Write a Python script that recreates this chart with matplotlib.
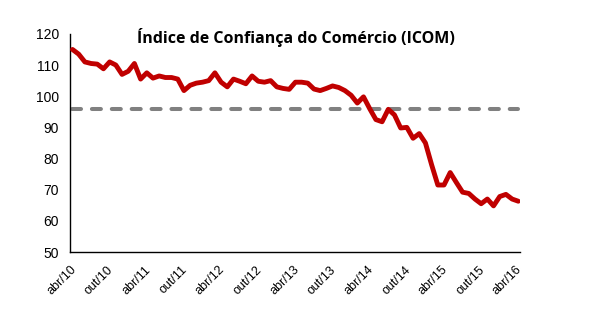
import matplotlib
matplotlib.use("Agg")
import matplotlib.pyplot as plt

# Monthly ICOM index, abr/10 .. abr/16
icom = [115.0, 113.5, 111.0, 110.5, 110.3, 108.8, 111.0, 110.0, 107.0, 108.0,
        110.5, 105.5, 107.5, 105.8, 106.5, 106.0, 106.0, 105.5, 101.8, 103.5,
        104.2, 104.5, 105.0, 107.5, 104.5, 103.0, 105.5, 104.8, 104.0, 106.5,
        104.8, 104.5, 105.0, 103.0, 102.5, 102.2, 104.5, 104.5, 104.2, 102.3,
        101.8, 102.5, 103.3, 102.8, 101.8, 100.3, 97.8, 99.8, 96.0, 92.5,
        91.8, 95.8, 94.0, 89.8, 90.0, 86.5, 88.0, 85.0, 78.0, 71.5,
        71.5, 75.5, 72.3, 69.2, 68.8, 67.0, 65.5, 67.0, 64.8, 67.8,
        68.5, 67.0, 66.3]
reference_level = 96.0
tick_labels = ["abr/10", "out/10", "abr/11", "out/11", "abr/12", "out/12",
               "abr/13", "out/13", "abr/14", "out/14", "abr/15", "out/15",
               "abr/16"]
tick_step = 6

plt.rcParams["font.family"] = ["Liberation Sans", "DejaVu Sans"]

fig = plt.figure(figsize=(6.01, 3.29), dpi=100)
ax = fig.add_axes([0.1165, 0.234, 0.749, 0.663])

x = list(range(len(icom)))
ax.plot(x, icom, color="#C00000", linewidth=3.5, solid_joinstyle="round",
        solid_capstyle="round", zorder=3)
ax.plot([x[0], x[-1]], [reference_level, reference_level], color="#808080",
        linewidth=2.9, linestyle=(0, (2.24, 2.7)), dash_capstyle="round",
        zorder=2)

ax.set_xlim(0, len(icom) - 1 + 0.3)
ax.set_ylim(50, 120)
ax.set_yticks(range(50, 121, 10))
ax.set_xticks([v - 0.4 for v in x[::tick_step]])
ax.set_xticklabels(tick_labels, rotation=45, ha="right", va="top",
                   rotation_mode="anchor", fontsize=9)
ax.tick_params(axis="y", length=0, labelsize=10, pad=8)
ax.tick_params(axis="x", length=0, pad=8.5)

for side in ("top", "right"):
    ax.spines[side].set_visible(False)
for side in ("left", "bottom"):
    ax.spines[side].set_linewidth(1.0)

fig.text(0.492, 0.885, "Índice de Confiança do Comércio (ICOM)",
         ha="center", va="center", fontsize=11.5, fontweight="bold",
         family=["Open Sans", "DejaVu Sans"])

fig.savefig("out.png", dpi=100)
